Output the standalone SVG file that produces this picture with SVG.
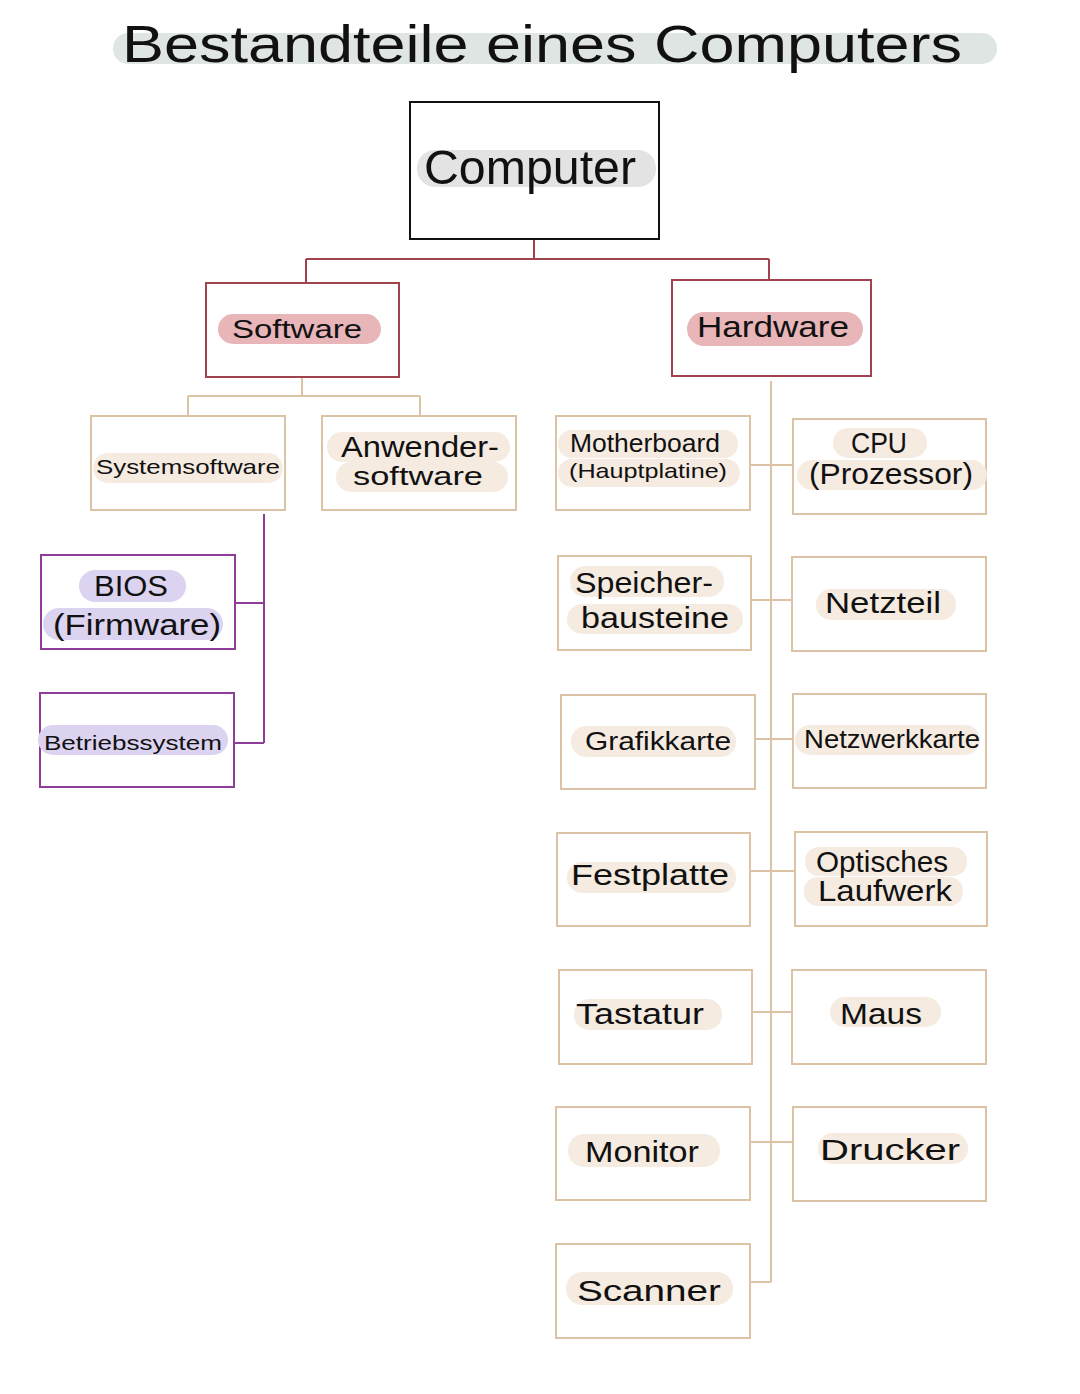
<svg xmlns="http://www.w3.org/2000/svg" width="1080" height="1394" viewBox="0 0 1080 1394">
<style>
text{font-family:"Liberation Sans","DejaVu Sans",sans-serif;fill:#111;text-anchor:middle;dominant-baseline:central}
.box{fill:#fff;stroke-width:2}
.root{stroke:#111}
.red{stroke:#a0434c}
.tan{stroke:#dcc3a6}
.pur{stroke:#8e3d99}
.hlg{fill:#dfe5e2}
.hlgr{fill:#e3e3e3}
.hlp{fill:#e8b5b8}
.hlb{fill:#f5ebe1}
.hlv{fill:#dcd3f0}
.con{fill:none;stroke-width:2}
.t20{font-size:21px}
.t24{font-size:25px}
.t28{font-size:29px}
</style>
<rect width="1080" height="1394" fill="#fff"/>

<g id="title">
<rect class="hlg" x="113" y="33" width="884" height="31" rx="15"/>
<text x="542" y="44" font-size="52" textLength="840" lengthAdjust="spacingAndGlyphs">Bestandteile  eines Computers</text>
</g>

<g id="connectors">
<path class="con red" d="M534 240 V259 M306 259 H769 M306 259 V283 M769 259 V280"/>
<path class="con tan" d="M302 377 V396 M188 396 H420 M188 396 V416 M420 396 V416"/>
<path class="con pur" d="M264 514 V743 M235 603 H264 M234 743 H264"/>
<path class="con tan" d="M771 381 V1282 M750 465 H793 M751 600 H792 M755 739 H793 M750 871 H795 M752 1012 H792 M750 1142 H793 M750 1282 H771"/>
</g>

<g id="computer">
<rect class="box root" x="410" y="102" width="249" height="137"/>
<rect class="hlgr" x="417" y="150" width="239" height="37" rx="18"/>
<text x="530" y="167" font-size="48" textLength="212" lengthAdjust="spacingAndGlyphs">Computer</text>
</g>

<g id="software">
<rect class="box red" x="206" y="283" width="193" height="94"/>
<rect class="hlp" x="218" y="314" width="163" height="30" rx="15"/>
<text x="297" y="329" class="t24" textLength="130" lengthAdjust="spacingAndGlyphs">Software</text>
</g>

<g id="hardware">
<rect class="box red" x="672" y="280" width="199" height="96"/>
<rect class="hlp" x="687" y="312" width="176" height="34" rx="17"/>
<text x="773" y="327" class="t28" textLength="152" lengthAdjust="spacingAndGlyphs">Hardware</text>
</g>

<g id="systemsoftware">
<rect class="box tan" x="91" y="416" width="194" height="94"/>
<rect class="hlb" x="93" y="453" width="190" height="30" rx="15"/>
<text x="188" y="466" class="t20" textLength="184" lengthAdjust="spacingAndGlyphs">Systemsoftware</text>
</g>

<g id="anwendersoftware">
<rect class="box tan" x="322" y="416" width="194" height="94"/>
<rect class="hlb" x="327" y="432" width="183" height="30" rx="15"/>
<rect class="hlb" x="336" y="462" width="172" height="30" rx="15"/>
<text x="420" y="447" class="t28" textLength="158" lengthAdjust="spacingAndGlyphs">Anwender-</text>
<text x="418" y="476" class="t24" textLength="130" lengthAdjust="spacingAndGlyphs">software</text>
</g>

<g id="bios">
<rect class="box pur" x="41" y="555" width="194" height="94"/>
<rect class="hlv" x="79" y="570" width="107" height="32" rx="16"/>
<rect class="hlv" x="43" y="608" width="180" height="32" rx="16"/>
<text x="131" y="586" class="t28" textLength="74" lengthAdjust="spacingAndGlyphs">BIOS</text>
<text x="137" y="625" class="t28" textLength="168" lengthAdjust="spacingAndGlyphs">(Firmware)</text>
</g>

<g id="betriebssystem">
<rect class="box pur" x="40" y="693" width="194" height="94"/>
<rect class="hlv" x="38" y="725" width="190" height="30" rx="15"/>
<text x="133" y="742" class="t20" textLength="178" lengthAdjust="spacingAndGlyphs">Betriebssystem</text>
</g>

<g id="motherboard">
<rect class="box tan" x="556" y="416" width="194" height="94"/>
<rect class="hlb" x="558" y="430" width="180" height="28" rx="14"/>
<rect class="hlb" x="558" y="459" width="182" height="28" rx="14"/>
<text x="645" y="443" class="t24" textLength="150" lengthAdjust="spacingAndGlyphs">Motherboard</text>
<text x="648" y="470" class="t20" textLength="158" lengthAdjust="spacingAndGlyphs">(Hauptplatine)</text>
</g>

<g id="cpu">
<rect class="box tan" x="793" y="419" width="193" height="95"/>
<rect class="hlb" x="833" y="428" width="94" height="30" rx="15"/>
<rect class="hlb" x="797" y="460" width="190" height="30" rx="15"/>
<text x="879" y="443" class="t28" textLength="56" lengthAdjust="spacingAndGlyphs">CPU</text>
<text x="891" y="474" class="t28" textLength="164" lengthAdjust="spacingAndGlyphs">(Prozessor)</text>
</g>

<g id="speicherbausteine">
<rect class="box tan" x="558" y="556" width="193" height="94"/>
<rect class="hlb" x="570" y="566" width="154" height="31" rx="15"/>
<rect class="hlb" x="567" y="604" width="176" height="30" rx="15"/>
<text x="644" y="583" class="t28" textLength="138" lengthAdjust="spacingAndGlyphs">Speicher-</text>
<text x="655" y="618" class="t28" textLength="148" lengthAdjust="spacingAndGlyphs">bausteine</text>
</g>

<g id="netzteil">
<rect class="box tan" x="792" y="557" width="194" height="94"/>
<rect class="hlb" x="816" y="589" width="140" height="31" rx="15"/>
<text x="883" y="603" class="t28" textLength="116" lengthAdjust="spacingAndGlyphs">Netzteil</text>
</g>

<g id="grafikkarte">
<rect class="box tan" x="561" y="695" width="194" height="94"/>
<rect class="hlb" x="571" y="726" width="165" height="31" rx="15"/>
<text x="658" y="741" class="t24" textLength="146" lengthAdjust="spacingAndGlyphs">Grafikkarte</text>
</g>

<g id="netzwerkkarte">
<rect class="box tan" x="793" y="694" width="193" height="94"/>
<rect class="hlb" x="795" y="725" width="185" height="30" rx="15"/>
<text x="892" y="739" class="t24" textLength="176" lengthAdjust="spacingAndGlyphs">Netzwerkkarte</text>
</g>

<g id="festplatte">
<rect class="box tan" x="557" y="833" width="193" height="93"/>
<rect class="hlb" x="567" y="862" width="169" height="31" rx="15"/>
<text x="650" y="875" class="t28" textLength="158" lengthAdjust="spacingAndGlyphs">Festplatte</text>
</g>

<g id="optisches-laufwerk">
<rect class="box tan" x="795" y="832" width="192" height="94"/>
<rect class="hlb" x="805" y="847" width="162" height="29" rx="14"/>
<rect class="hlb" x="804" y="877" width="159" height="29" rx="14"/>
<text x="882" y="862" class="t28" textLength="132" lengthAdjust="spacingAndGlyphs">Optisches</text>
<text x="885" y="891" class="t28" textLength="134" lengthAdjust="spacingAndGlyphs">Laufwerk</text>
</g>

<g id="tastatur">
<rect class="box tan" x="559" y="970" width="193" height="94"/>
<rect class="hlb" x="574" y="999" width="148" height="31" rx="15"/>
<text x="640" y="1014" class="t28" textLength="128" lengthAdjust="spacingAndGlyphs">Tastatur</text>
</g>

<g id="maus">
<rect class="box tan" x="792" y="970" width="194" height="94"/>
<rect class="hlb" x="830" y="997" width="111" height="30" rx="15"/>
<text x="881" y="1014" class="t28" textLength="82" lengthAdjust="spacingAndGlyphs">Maus</text>
</g>

<g id="monitor">
<rect class="box tan" x="556" y="1107" width="194" height="93"/>
<rect class="hlb" x="568" y="1134" width="152" height="33" rx="16"/>
<text x="642" y="1152" class="t28" textLength="114" lengthAdjust="spacingAndGlyphs">Monitor</text>
</g>

<g id="drucker">
<rect class="box tan" x="793" y="1107" width="193" height="94"/>
<rect class="hlb" x="818" y="1133" width="150" height="31" rx="15"/>
<text x="890" y="1150" class="t28" textLength="140" lengthAdjust="spacingAndGlyphs">Drucker</text>
</g>

<g id="scanner">
<rect class="box tan" x="556" y="1244" width="194" height="94"/>
<rect class="hlb" x="566" y="1272" width="167" height="33" rx="16"/>
<text x="649" y="1291" class="t28" textLength="144" lengthAdjust="spacingAndGlyphs">Scanner</text>
</g>
</svg>
